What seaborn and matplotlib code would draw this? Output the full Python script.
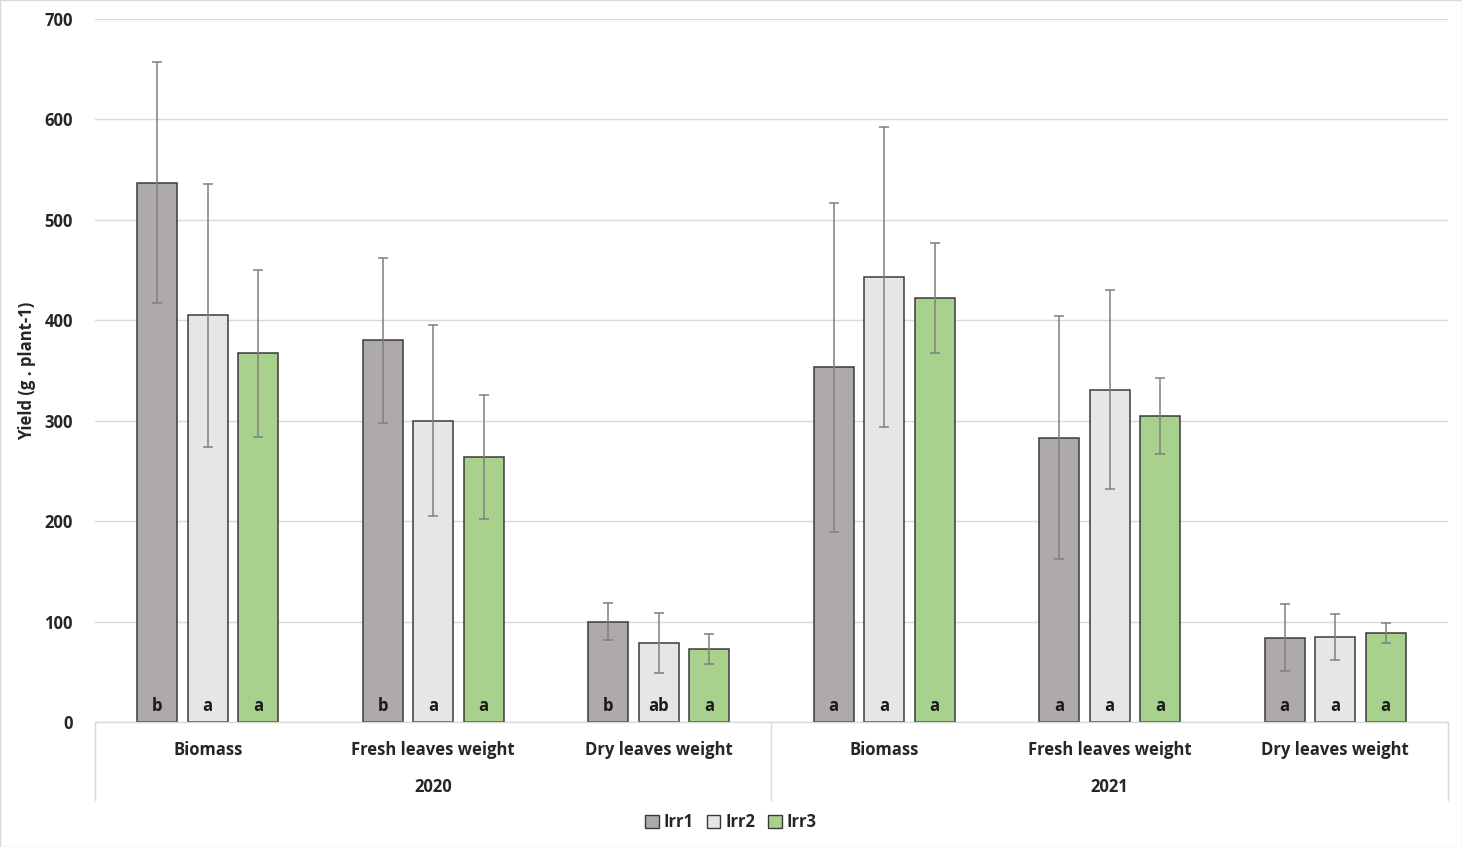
import matplotlib
matplotlib.use("Agg")
import matplotlib.pyplot as plt
import matplotlib.transforms as mtransforms
from matplotlib.patches import Patch
import pandas as pd
import seaborn as sns

# data
years = ["2020", "2021"]
traits = ["Biomass", "Fresh leaves weight", "Dry leaves weight"]
treatments = ["Irr1", "Irr2", "Irr3"]

# order: 2020 (Biomass, Fresh, Dry), 2021 (Biomass, Fresh, Dry)
irr1_mean = [537, 380, 100, 353, 283, 84]
irr2_mean = [405, 300, 79, 443, 331, 85]
irr3_mean = [367, 264, 73, 422, 305, 89]
irr1_sd = [120, 82, 18, 164, 121, 33]
irr2_sd = [131, 95, 30, 149, 99, 23]
irr3_sd = [83, 62, 15, 55, 38, 10]
irr1_letter = ["b", "b", "b", "a", "a", "a"]
irr2_letter = ["a", "a", "ab", "a", "a", "a"]
irr3_letter = ["a", "a", "a", "a", "a", "a"]

colors = {"Irr1": "#aeaaaa", "Irr2": "#e7e6e6", "Irr3": "#a9d18e"}

groups = [y + " " + t for y in years for t in traits]
means = {"Irr1": irr1_mean, "Irr2": irr2_mean, "Irr3": irr3_mean}
sds = {"Irr1": irr1_sd, "Irr2": irr2_sd, "Irr3": irr3_sd}
letters = {"Irr1": irr1_letter, "Irr2": irr2_letter, "Irr3": irr3_letter}

rows = []
for tr in treatments:
    for i, g in enumerate(groups):
        rows.append({"group": g, "treatment": tr, "mean": means[tr][i],
                     "sd": sds[tr][i], "letter": letters[tr][i]})
df = pd.DataFrame(rows)

sns.set_style("white")
plt.rcParams['font.family'] = ['Open Sans', 'DejaVu Sans']
plt.rcParams['font.weight'] = 'bold'

fig = plt.figure(figsize=(14.62, 8.47), dpi=100)
ax = fig.add_axes([0.065, 0.1476, 0.9254, 0.83])

ax.yaxis.grid(True, color="#d9d9d9", linewidth=1)
ax.set_axisbelow(True)

sns.barplot(data=df, x="group", y="mean", hue="treatment", order=groups,
            hue_order=treatments, palette=colors, width=0.672, gap=0.21,
            saturation=1, errorbar=None, edgecolor="#3a3a3a", linewidth=1.1,
            ax=ax, legend=False)

# error bars and letters on each bar
for tr, cont in zip(treatments, ax.containers):
    sub = df[df.treatment == tr].set_index("group").loc[groups]
    xs = [b.get_x() + b.get_width() / 2 for b in cont]
    ax.errorbar(xs, sub["mean"], yerr=sub["sd"], fmt="none",
                ecolor="#7f7f7f", elinewidth=1.1, capsize=3.5, capthick=1.1)
    for x, lt in zip(xs, sub["letter"]):
        ax.text(x, 16, lt, ha="center", va="center", fontsize=12,
                fontweight="bold", color="#1a1a1a")

ax.set_ylim(0, 700)
ax.set_xlim(-0.5, len(groups) - 0.5)
ax.set_yticks(range(0, 701, 100))
ax.tick_params(axis="y", length=0, pad=16, labelsize=12)
ax.set_xticks(range(len(groups)))
ax.set_xticklabels([t for y in years for t in traits], fontsize=12,
                   fontweight="bold")
ax.tick_params(axis="x", length=0, pad=14)
for lab in ax.get_yticklabels():
    lab.set_fontweight("bold")

for s in ["top", "right", "left"]:
    ax.spines[s].set_visible(False)
ax.spines["bottom"].set_color("#d9d9d9")
ax.spines["bottom"].set_linewidth(1)

ax.set_xlabel("")
ax.set_ylabel("Yield (g . plant-1)", fontsize=12, fontweight="bold", labelpad=6)

# year labels and separators below the axis
trans = mtransforms.blended_transform_factory(ax.transData, ax.transAxes)
for i, y in enumerate(years):
    ax.text(i * 3 + 1, -0.092, y, transform=trans, ha="center", va="center",
            fontsize=12, fontweight="bold")
for xb in [-0.5, 2.5, 5.5]:
    ax.plot([xb, xb], [0, -0.111], transform=trans, color="#d9d9d9",
            linewidth=1, clip_on=False)

handles = [Patch(facecolor=colors[t], edgecolor="#3a3a3a", linewidth=1, label=t)
           for t in treatments]
fig.legend(handles=handles, loc="center", bbox_to_anchor=(0.5, 0.0295),
           ncol=3, frameon=False, fontsize=12, handlelength=0.8,
           handleheight=0.8, handletextpad=0.3, columnspacing=0.8)

fig.patches.append(plt.Rectangle((0, 0), 1, 1, transform=fig.transFigure,
                                 fill=False, edgecolor="#d9d9d9", linewidth=1))

fig.savefig("out.png", dpi=100)
